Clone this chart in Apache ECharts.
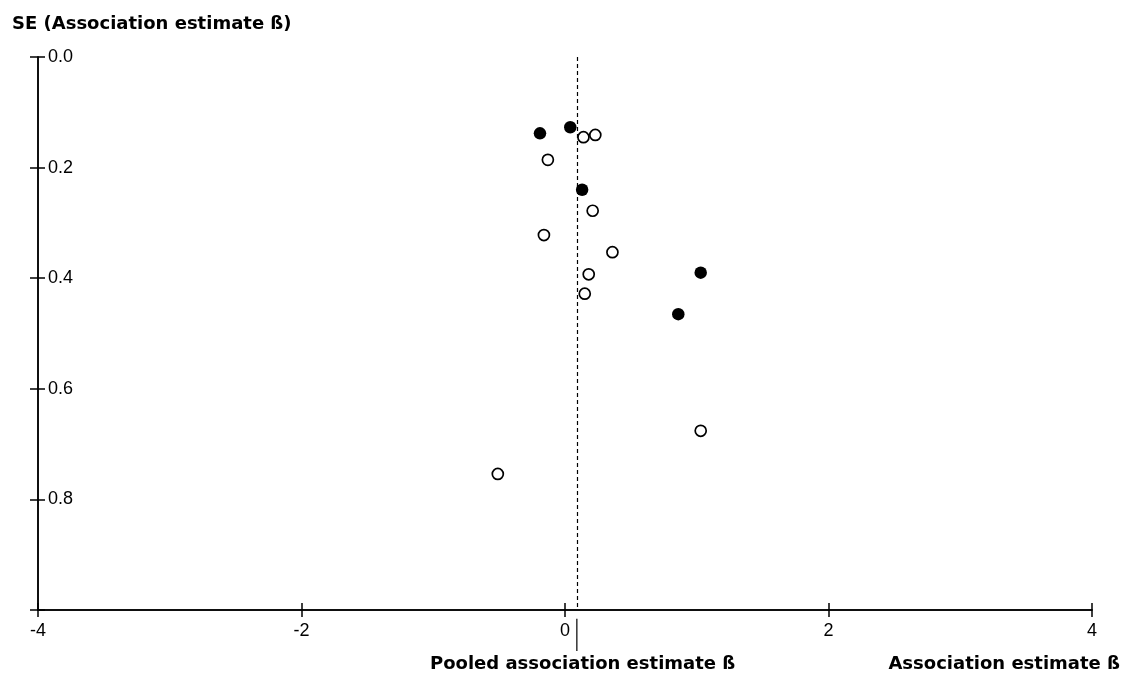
<!DOCTYPE html>
<html>
<head>
<meta charset="utf-8">
<script src="https://cdn.jsdelivr.net/npm/echarts@6/dist/echarts.min.js"></script>
<style>
  html, body { margin: 0; padding: 0; background: #fff; }
  #chart { width: 1125px; height: 677px; }
</style>
</head>
<body>
<div id="chart"></div>
<script>
// filled circles: [beta, SE]
const filledPoints = [
  [-0.19, 0.138], [0.04, 0.127], [0.13, 0.240], [1.03, 0.390], [0.86, 0.465]
]
// open circles: [beta, SE]
const openPoints = [
  [0.14, 0.145], [0.23, 0.141], [-0.13, 0.186], [0.21, 0.278], [-0.16, 0.322],
  [0.36, 0.353], [0.18, 0.393], [0.15, 0.428], [1.03, 0.676], [-0.51, 0.754]
]
const pooledEstimate = 0.09
const xTicks = [-4, -2, 0, 2, 4]
const yTicks = [0.0, 0.2, 0.4, 0.6, 0.8]

const font = 'Liberation Sans, Arial, sans-serif'
const boldFont = 'DejaVu Sans, sans-serif'
const chart = echarts.init(document.getElementById('chart'), null, { renderer: 'canvas' })

const baseX = {
  type: 'value', min: -4, max: 4, interval: 2, position: 'bottom',
  axisLine: { show: true, onZero: false, lineStyle: { color: '#000', width: 1.5 } },
  splitLine: { show: false }
}
const baseY = {
  type: 'value', min: 0, max: 1, interval: 0.2, inverse: true, position: 'left',
  axisLine: { show: true, onZero: false, lineStyle: { color: '#000', width: 1.5 } },
  splitLine: { show: false }
}

chart.setOption({
  animation: false,
  backgroundColor: '#fff',
  title: {
    text: 'SE (Association estimate \u00df)',
    left: 12, top: 15, padding: 0,
    textStyle: { fontFamily: boldFont, fontWeight: 'bold', fontSize: 18, color: '#000' }
  },
  grid: { left: 38, right: 33, top: 57, bottom: 67 },
  xAxis: [
    Object.assign({}, baseX, {
      axisTick: { show: true, length: 7, lineStyle: { color: '#000', width: 1.5 } },
      axisLabel: {
        show: true, margin: 12, fontFamily: font, fontSize: 18, color: '#000',
        formatter: v => xTicks.includes(v) ? String(v) : ''
      }
    }),
    Object.assign({}, baseX, {
      axisTick: { show: true, inside: true, length: 7, lineStyle: { color: '#000', width: 1.5 } },
      axisLabel: { show: false }
    })
  ],
  yAxis: [
    Object.assign({}, baseY, {
      axisTick: { show: true, length: 8, lineStyle: { color: '#000', width: 1.5 } },
      axisLabel: { show: false }
    }),
    Object.assign({}, baseY, {
      axisTick: { show: true, inside: true, length: 7, lineStyle: { color: '#000', width: 1.5 } },
      axisLabel: {
        show: true, inside: true, margin: 10, fontFamily: font, fontSize: 18, color: '#000',
        formatter: v => yTicks.some(t => Math.abs(t - v) < 1e-9) ? v.toFixed(1) : ''
      }
    })
  ],
  graphic: [
    {
      type: 'text', left: 430, top: 655,
      style: { text: 'Pooled association estimate \u00df', fontFamily: boldFont, fontWeight: 'bold', fontSize: 18, fill: '#000' }
    },
    {
      type: 'text', right: 5, top: 655,
      style: { text: 'Association estimate \u00df', fontFamily: boldFont, fontWeight: 'bold', fontSize: 18, fill: '#000' }
    }
  ],
  series: [
    {
      type: 'line',
      data: [[pooledEstimate, 1.016], [pooledEstimate, 1.074]],
      clip: false, symbol: 'none', silent: true,
      lineStyle: { color: '#000', width: 1.2 }
    },
    {
      type: 'scatter',
      data: openPoints,
      symbol: 'circle', symbolSize: 11,
      itemStyle: { color: '#fff', borderColor: '#000', borderWidth: 1.7, opacity: 1 },
      markLine: {
        silent: true, symbol: 'none', label: { show: false },
        lineStyle: { color: '#000', width: 1.2, type: [4, 3] },
        data: [[{ coord: [pooledEstimate, 0] }, { coord: [pooledEstimate, 1] }]]
      }
    },
    {
      type: 'scatter',
      data: filledPoints,
      symbol: 'circle', symbolSize: 12.5,
      itemStyle: { color: '#000', borderColor: '#000', borderWidth: 0, opacity: 1 }
    }
  ]
})
</script>
</body>
</html>
